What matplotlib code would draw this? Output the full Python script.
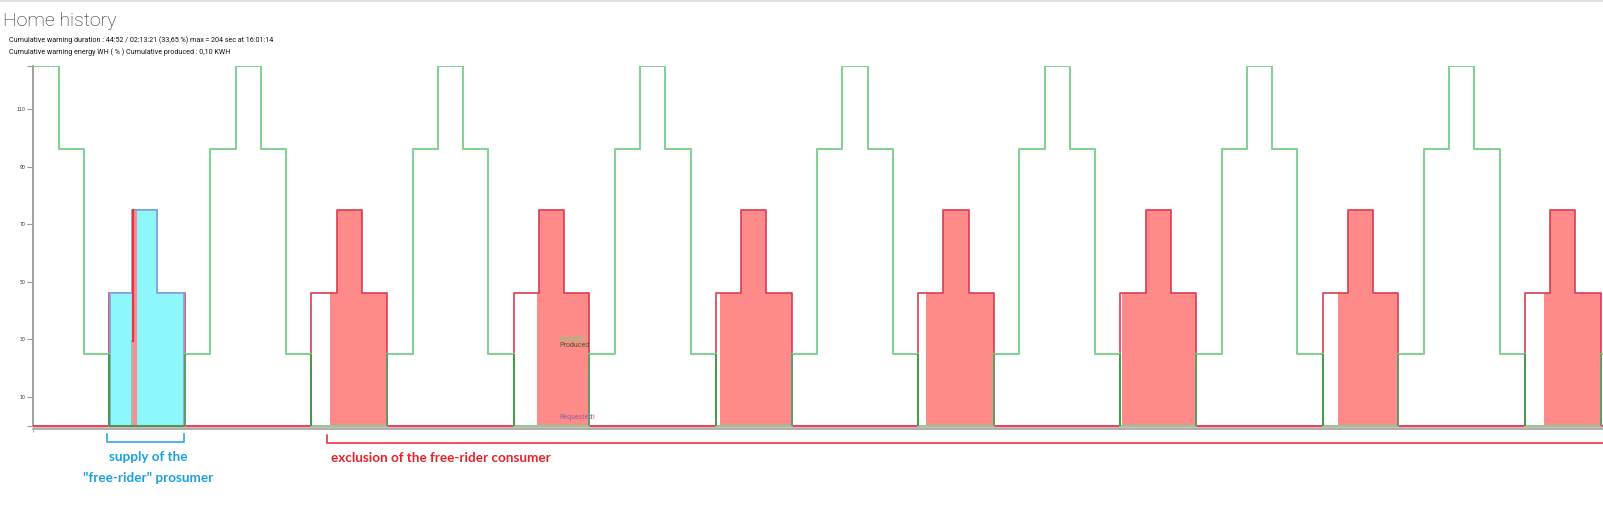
import matplotlib.pyplot as plt
from matplotlib.lines import Line2D
import numpy as np

W, H = 1603, 521

# available power (green step line)
avail_x = [0, 1, 2, 3, 6, 7,
           8, 9, 10, 11, 14, 15,
           16, 17, 18, 19, 22, 23,
           24, 25, 26, 27, 30, 31,
           32, 33, 34, 35, 38, 39,
           40, 41, 42, 43, 46, 47,
           48, 49, 50, 51, 54, 55,
           56, 57, 58, 59, 62, 62.09]
avail_y = [125, 96, 25, 0, 25, 96,
           125, 96, 25, 0, 25, 96,
           125, 96, 25, 0, 25, 96,
           125, 96, 25, 0, 25, 96,
           125, 96, 25, 0, 25, 96,
           125, 96, 25, 0, 25, 96,
           125, 96, 25, 0, 25, 96,
           125, 96, 25, 0, 25, 25]

# requested power (red outline)
req_x = [0, 3, 3.96, 4.88, 6,
         11, 12, 13, 14,
         19, 20, 21, 22,
         27, 28, 29, 30,
         35, 36, 37, 38,
         43, 44, 45, 46,
         51, 52, 53, 54,
         59, 60, 61, 62, 62.09]
req_y = [0, 46, 75, 46, 0,
         46, 75, 46, 0,
         46, 75, 46, 0,
         46, 75, 46, 0,
         46, 75, 46, 0,
         46, 75, 46, 0,
         46, 75, 46, 0,
         46, 75, 46, 0, 0]

# consumed power (red fill)
cons_x = [0, 3.96, 4.12,
          11.74, 12, 13, 14,
          19.92, 20, 21, 22,
          27.17, 28, 29, 30,
          35.33, 36, 37, 38,
          43.08, 44, 45, 46,
          51.62, 52, 53, 54,
          59.77, 60, 61, 62]
cons_y = [0, 75, 0,
          46, 75, 46, 0,
          46, 75, 46, 0,
          46, 75, 46, 0,
          46, 75, 46, 0,
          46, 75, 46, 0,
          46, 75, 46, 0,
          46, 75, 46, 0]

# supply to the free-rider prosumer (cyan)
sup_x = [3.04, 3.92, 4.12, 4.88, 5.97]
sup_y = [46, 0, 75, 46, 0]
sup_line_x = [3.04, 3.04, 3.92, 4.88, 5.97]
sup_line_y = [0, 46, 75, 46, 0]

# first consumption step (gray then red)
first_x = [3.92, 3.96]
first_y = [29.4, 75]

yticks = [0, 10, 30, 50, 70, 90, 110, 125]
ytick_labels = ['', '10', '30', '50', '70', '90', '110', '']

fig = plt.figure(figsize=(W / 100, H / 100), dpi=100)
ax = fig.add_axes([33.3 / W, (H - 429.3) / H, (W - 33.3) / W, (429.3 - 66) / H])

ax.axhline(0, color='#e393a6', lw=1.8, zorder=1)
ax.fill_between(cons_x, 0, cons_y, step='post', color='#ff8a8a', lw=0, zorder=2)
ax.step(req_x, req_y, where='post', color='#d9384f', lw=1.3, alpha=0.9, zorder=3)
ax.fill_between(sup_x, 0, sup_y, step='post', color='#8ef7fb', lw=0, zorder=4)
ax.step(sup_line_x, sup_line_y, where='post', color='#7fa8e6', lw=1.3, zorder=5)
ax.plot([first_x[0], first_x[0], first_x[1]], [0, first_y[0], first_y[0]], color='#a8a8a8', lw=1.2, zorder=6)
ax.plot([first_x[1], first_x[1]], [first_y[0], first_y[1]], color='#f03040', lw=1.6, zorder=6)

ax.step(avail_x, avail_y, where='post', color='#85d094', lw=1.5, zorder=6)

# produced: dark green edges where available drops to zero
ax_arr = np.array(avail_x)
ay_arr = np.array(avail_y)
idx = np.where(ay_arr == 0)[0]
prod_on = ax_arr[idx]
prod_off = ax_arr[idx + 1]
ax.vlines(prod_on, 0, ay_arr[idx - 1], color='#3a8f3f', lw=1.2, zorder=7)
ax.vlines(prod_off, 0, ay_arr[idx + 1], color='#5f8f60', lw=1.2, zorder=7)
ax.hlines(0, prod_on[0], prod_off[0], color='#3a8f3f', lw=1.2, zorder=7)

ax.set_xlim(0, 62.09)
ax.set_ylim(-1.2, 125)
for s in ['top', 'right']:
    ax.spines[s].set_visible(False)
ax.spines['left'].set_bounds(0, 125)
ax.spines['left'].set_color('#999999')
ax.spines['bottom'].set_color('#a8a8a8')
ax.spines['left'].set_linewidth(1.3)
ax.spines['bottom'].set_linewidth(1.3)
ax.set_yticks(yticks)
ax.set_yticklabels(ytick_labels)
ax.set_xticks([0])
ax.set_xticklabels([''])
ax.tick_params(axis='y', length=4, width=0.8, color='#999999', labelsize=3.4, pad=1.5, labelcolor='#333333')
ax.tick_params(axis='x', length=2.5, width=0.8, color='#a8a8a8')

# overlapping legend labels (as in the original)
ax.text(20.8, 30, 'Available', color='#6cd67c', fontsize=5, family='Roboto', va='center')
ax.text(20.8, 28, 'Produced', color='#3a5a2a', fontsize=5, family='Roboto', va='center')
ax.text(20.8, 3, 'Requested', color='#6a6aa8', fontsize=5, family='Roboto', va='center')
ax.text(20.9, 3.0, 'Consumed', color='#ff7080', fontsize=5, family='Roboto', va='center', alpha=0.8)

def fx(px):
    return px / W

def fy(py):
    return 1 - py / H

# header
fig.add_artist(Line2D([0, 1], [fy(0.6), fy(0.6)], color='#e2e2e2', lw=1.5))
fig.text(fx(3.3), fy(26), 'Home history', fontsize=14, family='Roboto', fontweight='light',
         color='#222222', va='baseline')
fig.text(fx(9), fy(42.3), 'Cumulative warning duration : 44:52 / 02:13:21 (33,65 %) max = 204 sec at 16:01:14',
         fontsize=5.1, family='Roboto', color='#111111', va='baseline')
fig.text(fx(9), fy(54), 'Cumulative warning energy WH ( % ) Cumulative produced : 0,10 KWH',
         fontsize=5.1, family='Roboto', color='#111111', va='baseline')

# annotations below the chart
blue = '#1ba1e2'
red = '#e8212b'
fig.add_artist(Line2D([fx(107.3), fx(107.3), fx(184.3), fx(184.3)],
                      [fy(434), fy(442.3), fy(442.3), fy(434)], color=blue, lw=1.1))
fig.add_artist(Line2D([fx(327.3), fx(327.3), fx(W)],
                      [fy(435), fy(443.3), fy(443.3)], color=red, lw=1.1))
fig.text(fx(148), fy(461), 'supply of the', fontsize=9.7, family='Lato', fontweight='bold',
         color=blue, ha='center', va='baseline')
fig.text(fx(148), fy(482), '"free-rider" prosumer', fontsize=9.7, family='Lato', fontweight='bold',
         color=blue, ha='center', va='baseline')
fig.text(fx(330.7), fy(461.5), 'exclusion of the free-rider consumer', fontsize=9.7, family='Lato',
         fontweight='bold', color=red, va='baseline')

fig.savefig('out.png', dpi=100)
